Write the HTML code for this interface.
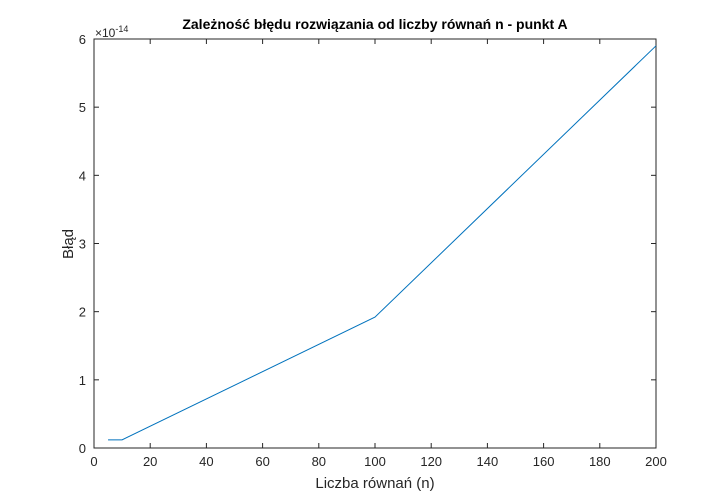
<!DOCTYPE html>
<html><head><meta charset="utf-8"><style>
body{margin:0;background:#fff;}
svg{display:block;font-family:"Liberation Sans",sans-serif;}
</style></head><body>
<svg id="chart" width="726" height="504" viewBox="0 0 726 504"></svg>
<script>
const xValues=[5,10,100,200];
const yValues=[0.12,0.12,1.92,5.9];
const xTicks=[0,20,40,60,80,100,120,140,160,180,200];
const yTicks=[0,1,2,3,4,5,6];
const L=94,R=656,T=39,B=448;
const sx=v=>L+(v-0)/(200-0)*(R-L);
const sy=v=>B-(v-0)/(6-0)*(B-T);
const svg=document.getElementById('chart');
const NS='http://www.w3.org/2000/svg';
function mk(tag,attrs,txt){const e=document.createElementNS(NS,tag);for(const k in attrs)e.setAttribute(k,attrs[k]);if(txt!==undefined)e.textContent=txt;svg.appendChild(e);return e;}
let e=mk('rect',{x:L,y:T,width:R-L,height:B-T,fill:'#fff',stroke:'#262626','stroke-width':1});


xTicks.forEach(t=>{const x=sx(t);
let l=mk('line',{x1:x,x2:x,y1:B,y2:B-5,stroke:'#262626'});


l=mk('line',{x1:x,x2:x,y1:T,y2:T+5,stroke:'#262626'});


let tx=mk('text',{x:x,y:B+18,'text-anchor':'middle','font-size':13,fill:'#262626'},t);

});
yTicks.forEach(t=>{const y=sy(t);
let l=mk('line',{x1:L,x2:L+5,y1:y,y2:y,stroke:'#262626'});


l=mk('line',{x1:R,x2:R-5,y1:y,y2:y,stroke:'#262626'});


let tx=mk('text',{x:L-8,y:y+5,'text-anchor':'end','font-size':13,fill:'#262626'},t);

});
let ex=mk('text',{x:95,y:37,'font-size':12,fill:'#262626'});


ex.innerHTML='×10<tspan dy="-5" font-size="9">-14</tspan>';
let pts=xValues.map((v,i)=>sx(v)+','+sy(yValues[i])).join(' ');
let pl=mk('polyline',{points:pts,fill:'none',stroke:'#0072BD','stroke-width':1});


let ti=mk('text',{x:375,y:29,'text-anchor':'middle','font-size':14,'font-weight':'bold',fill:'#000'},'Zależność błędu rozwiązania od liczby równań n - punkt A');


let xl=mk('text',{x:375,y:488,'text-anchor':'middle','font-size':15,fill:'#262626'},'Liczba równań (n)');


let yl=mk('text',{x:73,y:244,'text-anchor':'middle','font-size':15,fill:'#262626',transform:'rotate(-90 73 244)'},'Błąd');


</script>
</body></html>
